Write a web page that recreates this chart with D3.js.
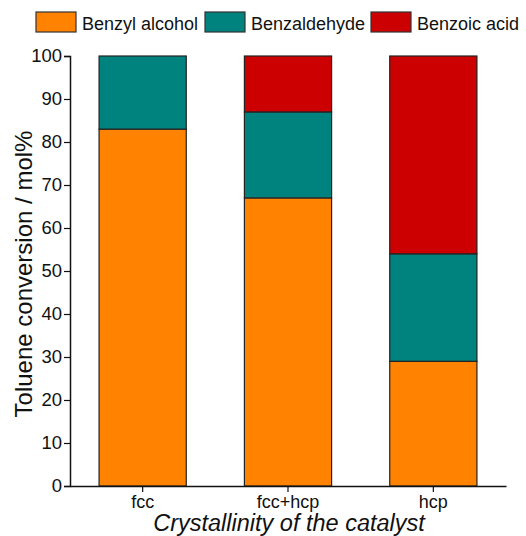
<!DOCTYPE html>
<html>
<head>
<meta charset="utf-8">
<script src="https://cdn.jsdelivr.net/npm/d3@7"></script>
<style>
  html, body { margin: 0; padding: 0; background: #fff; }
  text { font-family: Arial, "Liberation Sans", sans-serif; fill: #111; }
</style>
</head>
<body>
<svg id="chart" width="526" height="536"></svg>
<script>
// Catalyst phases and product selectivity (mol%)
const categories = ["fcc", "fcc+hcp", "hcp"];
const seriesNames = ["Benzyl alcohol", "Benzaldehyde", "Benzoic acid"];
const benzylAlcohol = [83, 67, 29];
const benzaldehyde = [17, 20, 25];
const benzoicAcid = [0, 13, 46];
const yTicks = [0, 10, 20, 30, 40, 50, 60, 70, 80, 90, 100];
const colors = ["#FF8300", "#00827F", "#CC0000"];

const rows = categories.map((c, i) => ({
  cat: c,
  "Benzyl alcohol": benzylAlcohol[i],
  "Benzaldehyde": benzaldehyde[i],
  "Benzoic acid": benzoicAcid[i]
}));
const stacked = d3.stack().keys(seriesNames)(rows);

const svg = d3.select("#chart");
const x = d3.scaleBand().domain(categories).range([70, 506]).paddingInner(0.4).paddingOuter(0.2);
const y = d3.scaleLinear().domain([0, 100]).range([486, 56]);
const color = d3.scaleOrdinal().domain(seriesNames).range(colors);

// stacked bars
svg.append("g").selectAll("g").data(stacked).join("g")
  .attr("fill", d => color(d.key))
  .selectAll("rect").data(d => d.filter(p => p[1] - p[0] > 0)).join("rect")
  .attr("x", d => x(d.data.cat))
  .attr("width", x.bandwidth())
  .attr("y", d => y(d[1]))
  .attr("height", d => y(d[0]) - y(d[1]))
  .attr("stroke", "#222")
  .attr("stroke-width", 1.2);

// y axis
const yAxis = svg.append("g").attr("transform", "translate(70,0)")
  .call(d3.axisLeft(y).tickValues(yTicks).tickSize(6).tickPadding(2));
yAxis.select(".domain").attr("stroke", "#111").attr("stroke-width", 1.5);
yAxis.selectAll(".tick line").attr("stroke", "#111").attr("stroke-width", 1.2);
yAxis.selectAll("text").attr("font-size", 18.5).style("fill", "#111");

// x axis
const xAxis = svg.append("g").attr("transform", "translate(0,486)")
  .call(d3.axisBottom(x).tickSize(6).tickSizeOuter(0).tickPadding(3));
xAxis.select(".domain").attr("stroke", "#111").attr("stroke-width", 1.5);
xAxis.selectAll(".tick line").attr("stroke", "#111").attr("stroke-width", 1.2);
xAxis.selectAll("text").attr("font-size", 18).attr("dy", null).attr("y", 21.5).style("fill", "#111");

// axis titles
svg.append("text")
  .attr("transform", "translate(32,274) rotate(-90)")
  .attr("text-anchor", "middle")
  .attr("font-size", 24)
  .text("Toluene conversion / mol%");
svg.append("text")
  .attr("x", 289).attr("y", 531)
  .attr("text-anchor", "middle")
  .attr("font-size", 23.5)
  .attr("font-style", "italic")
  .text("Crystallinity of the catalyst");

// legend
const legendX = [36, 205, 371];
const legend = svg.append("g").selectAll("g").data(seriesNames).join("g")
  .attr("transform", (d, i) => `translate(${legendX[i]},12)`);
legend.append("rect")
  .attr("width", 40).attr("height", 20)
  .attr("fill", d => color(d))
  .attr("stroke", "#333").attr("stroke-width", 1.2);
legend.append("text")
  .attr("x", 46).attr("y", 18)
  .attr("font-size", 18)
  .text(d => d);
</script>
</body>
</html>
